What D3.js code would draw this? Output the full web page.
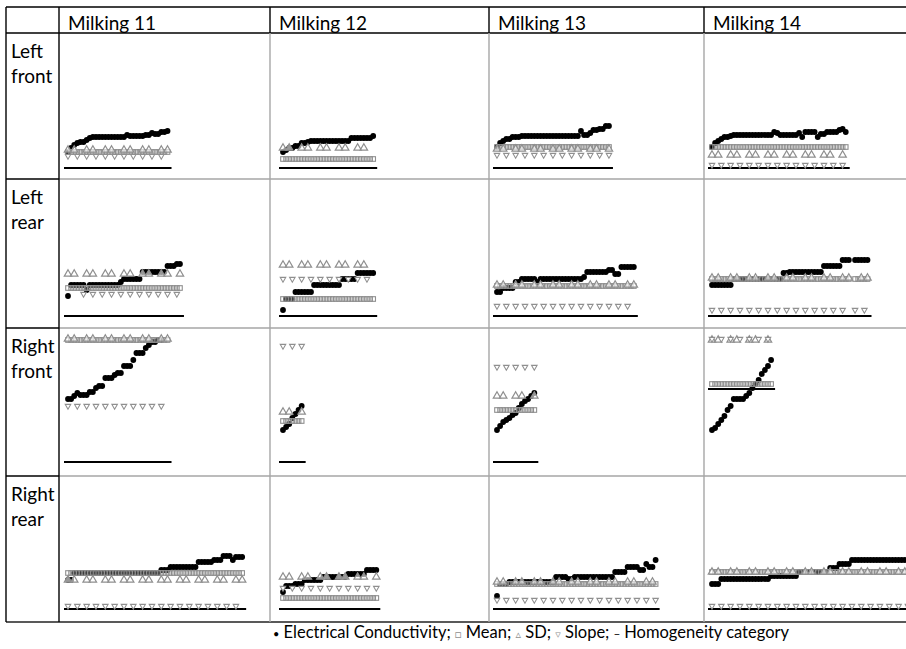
<!DOCTYPE html>
<html>
<head>
<meta charset="utf-8">
<script src="https://cdn.jsdelivr.net/npm/d3@7"></script>
<style>
  body { margin: 0; background: #fff; }
  svg { display: block; }
  text { font-family: Lato, "DejaVu Sans", sans-serif; fill: #000; }
</style>
</head>
<body>
<div id="chart"></div>
<script>
const milkings = ["Milking 11", "Milking 12", "Milking 13", "Milking 14"];
const quarters = [["Left", "front"], ["Left", "rear"], ["Right", "front"], ["Right", "rear"]];

// every series is a list of runs: [value, firstSample, lastSample]
// values are in plot units above the bottom of each row (0..150)
const sampleCounts = [[33, 30, 37, 44], [37, 30, 45, 51], [33, 7, 13, 20], [57, 31, 52, 66]];
const homLevels = [[11, 11, 11, 11], [12, 12, 12, 12], [14, 14, 14, 87], [13, 13, 13, 13]];

const ecLeftFront = [
    [[27,0,0],[31,1,1],[34,2,2],[36,3,3],[37,4,5],[39,6,6],[41,7,7],[42,8,18],[44,19,19],[43,20,24],[44,25,26],[46,27,27],[45,28,29],[47,30,31],[48,32,32]],
    [[27,0,0],[29,1,1],[31,2,3],[33,4,5],[36,6,7],[37,8,8],[38,9,21],[41,22,28],[43,29,29]],
    [[32,0,0],[36,1,1],[38,2,2],[40,3,4],[42,5,7],[43,8,26],[48,27,27],[44,28,29],[46,30,30],[49,31,32],[50,33,34],[53,35,36]],
    [[32,0,0],[36,1,1],[38,2,2],[40,3,3],[42,4,5],[43,6,6],[44,7,19],[47,20,20],[46,21,21],[44,22,27],[46,28,28],[42,29,29],[47,30,33],[42,34,34],[45,35,36],[47,37,40],[49,41,41],[50,42,42],[47,43,43]]
];
const ecLeftRear = [
    [[32,0,0],[43,1,5],[38,6,6],[43,7,16],[46,17,17],[49,18,23],[56,24,31],[62,32,34],[64,35,36]],
    [[18,0,0],[29,1,3],[36,4,9],[43,10,18],[49,19,23],[55,24,29]],
    [[36,0,1],[40,2,5],[46,6,7],[49,8,12],[46,13,13],[49,14,27],[51,28,28],[56,29,35],[58,36,37],[54,38,39],[61,40,44]],
    [[43,0,6],[49,7,22],[55,23,24],[56,25,35],[62,36,41],[68,42,44],[68,46,50]]
];
const ecRightFront = [
    [[77,0,1],[80,2,2],[83,3,3],[81,4,6],[84,7,8],[88,9,9],[90,10,11],[98,12,14],[101,15,15],[103,16,17],[110,18,20],[116,21,21],[123,22,24],[128,25,25],[131,26,26],[134,27,28],[136,29,30]],
    [[46,0,0],[49,1,1],[52,2,2],[58,3,3],[62,4,4],[66,5,5],[70,6,6]],
    [[46,0,0],[50,1,1],[54,2,2],[56,3,3],[58,4,4],[61,5,5],[63,6,6],[68,7,7],[72,8,8],[75,9,9],[77,10,10],[80,11,11],[83,12,12]],
    [[46,0,0],[48,1,1],[52,2,2],[56,3,3],[60,4,4],[66,5,5],[70,6,6],[77,7,10],[80,11,11],[83,12,12],[88,13,13],[92,14,14],[96,15,15],[102,16,16],[106,17,17],[110,18,18],[116,19,19]]
];
const ecRightRear = [
    [[42,0,1],[49,2,29],[52,30,32],[55,33,41],[60,42,46],[62,47,49],[66,50,52],[62,53,53],[65,54,56]],
    [[30,0,0],[36,1,3],[38,4,6],[42,7,12],[45,13,20],[48,21,26],[52,27,30]],
    [[26,0,0],[38,1,3],[40,4,18],[45,19,22],[43,23,24],[45,25,37],[50,38,41],[55,42,45],[52,46,47],[58,48,48],[55,49,50],[62,51,51]],
    [[38,0,2],[43,3,18],[46,19,27],[50,28,37],[54,38,40],[58,41,44],[62,45,65]]
];

const meanRuns = [
    [[[27,0,32]], [[20,0,29]], [[32,0,36]], [[32,0,43]]],
    [[[40,0,36]], [[29,0,29]], [[42,0,44]], [[49,0,44],[49,46,50]]],
    [[[136,0,32]], [[55,0,6]], [[66,0,12]], [[92,0,19]]],
    [[[49,0,56]], [[24,0,30]], [[38,0,51]], [[50,0,65]]]
];
const sdRuns = [
    [[[29,0,32]], [[31,0,27]], [[30,0,36]], [[24,0,43]]],
    [[[54,0,36]], [[63,0,29]], [[43,0,44]], [[50,0,50]]],
    [[[137,0,32]], [[64,0,6]], [[80,0,12]], [[136,0,19]]],
    [[[42,0,56]], [[45,0,30]], [[40,0,51]], [[50,0,65]]]
];
const slopeRuns = [
    [[[23,0,32]], [], [[24,0,36]], [[14,0,43]]],
    [[[34,5,35]], [[49,0,27]], [[22,0,42]], [[18,0,42],[18,46,49]]],
    [[[70,0,30]], [[130,0,6]], [[109,0,12]], [[137,0,19]]],
    [[[16,0,56]], [[34,0,30]], [[22,0,51]], [[16,0,65]]]
];
const ecRuns = [ecLeftFront, ecLeftRear, ecRightFront, ecRightRear];

const width = 906;
const height = 649;
const colX = [6, 59, 270, 489, 704, 1060];
const rowY = [7, 33, 179, 328, 476, 622];
const step = 3.11;
const grey = "#8f8f8f";

// expand runs into points, keeping every k-th sample
function expand(runs, every, offsets) {
    const pts = [];
    runs.forEach(([v, a, b]) => {
        for (let i = a; i <= b; i += every) {
            offsets.forEach(o => { if (i + o <= b) pts.push({ i: i + o, v: v }); });
        }
    });
    return pts;
}

const svg = d3.select("#chart").append("svg")
    .attr("width", width)
    .attr("height", height);

// grid
const grid = svg.append("g");
const hLine = (y, x1, x2, c) => grid.append("line").attr("x1", x1).attr("x2", x2).attr("y1", y).attr("y2", y)
    .attr("stroke", c).attr("stroke-width", 1.4);
const vLine = (x, y1, y2, c) => grid.append("line").attr("x1", x).attr("x2", x).attr("y1", y1).attr("y2", y2)
    .attr("stroke", c).attr("stroke-width", 1.4);

hLine(rowY[0], colX[0], width, "#000");
hLine(rowY[1], colX[0], width, "#000");
[2, 3, 4].forEach(r => { hLine(rowY[r], colX[0], colX[1], "#000"); hLine(rowY[r], colX[1], width, "#a6a6a6"); });
hLine(rowY[5], colX[0], width, "#222");
vLine(colX[0], rowY[0], rowY[5], "#000");
vLine(colX[1], rowY[0], rowY[5], "#000");
[2, 3, 4].forEach(c => { vLine(colX[c], rowY[0], rowY[1], "#000"); vLine(colX[c], rowY[1], rowY[5], "#a6a6a6"); });

// headers
svg.selectAll(".head").data(milkings).enter().append("text")
    .attr("class", "head")
    .attr("x", (d, i) => colX[i + 1] + 9)
    .attr("y", rowY[0] + 23)
    .style("font-size", "19px")
    .text(d => d);

quarters.forEach((q, r) => {
    svg.append("text")
        .attr("x", 11)
        .attr("y", rowY[r + 1] + 25)
        .style("font-size", "19px")
        .selectAll("tspan").data(q).enter().append("tspan")
        .attr("x", 11)
        .attr("dy", (d, i) => i ? 25 : 0)
        .text(d => d);
});

const tri = d3.symbol().type(d3.symbolTriangle);

quarters.forEach((q, r) => {
    const bottom = rowY[r + 2];
    const y = d3.scaleLinear().domain([0, 150]).range([bottom, bottom - 150]);
    milkings.forEach((m, c) => {
        const n = sampleCounts[r][c];
        const x0 = colX[c + 1] + (c === 0 ? 9 : c === 1 ? 13 : 8);
        const x = d3.scaleLinear().domain([0, n - 1]).range([x0, x0 + (n - 1) * step]);
        const g = svg.append("g");

        g.append("line")
            .attr("x1", x(0) - 4).attr("x2", x(n - 1) + 4)
            .attr("y1", y(homLevels[r][c])).attr("y2", y(homLevels[r][c]))
            .attr("stroke", "#000").attr("stroke-width", 2);

        g.selectAll(".ec").data(expand(ecRuns[r][c], 1, [0])).enter().append("circle")
            .attr("cx", d => x(d.i)).attr("cy", d => y(d.v)).attr("r", 2.9)
            .attr("fill", "#000");

        g.selectAll(".mean").data(expand(meanRuns[r][c], 1, [0])).enter().append("rect")
            .attr("x", d => x(d.i) - 2.3).attr("y", d => y(d.v) - 2.3)
            .attr("width", 4.6).attr("height", 4.6)
            .attr("fill", "none").attr("stroke", grey).attr("stroke-width", 1.1);

        g.selectAll(".sd").data(expand(sdRuns[r][c], 6, [0, 2])).enter().append("path")
            .attr("d", tri.size(24))
            .attr("transform", d => `translate(${x(d.i)},${y(d.v)})`)
            .attr("fill", "#fff").attr("fill-opacity", 0.6).attr("stroke", grey).attr("stroke-width", 1.2);

        g.selectAll(".slope").data(expand(slopeRuns[r][c], 3, [0])).enter().append("path")
            .attr("d", tri.size(13))
            .attr("transform", d => `translate(${x(d.i)},${y(d.v)}) rotate(180)`)
            .attr("fill", "#fff").attr("stroke", grey).attr("stroke-width", 1.1);
    });
});

// legend
const legend = svg.append("text")
    .attr("x", 273)
    .attr("y", 638)
    .style("font-size", "16.5px");
const items = [
    { sym: "\u2022", col: "#000", label: " Electrical Conductivity; " },
    { sym: "\u25A1", col: grey, label: " Mean; " },
    { sym: "\u25B5", col: grey, label: " SD; " },
    { sym: "\u25BF", col: grey, label: " Slope; " },
    { sym: "\u2212", col: "#000", label: " Homogeneity category" }
];
items.forEach(it => {
    legend.append("tspan").style("fill", it.col).style("font-size", "11px").text(it.sym);
    legend.append("tspan").text(it.label);
});
</script>
</body>
</html>
